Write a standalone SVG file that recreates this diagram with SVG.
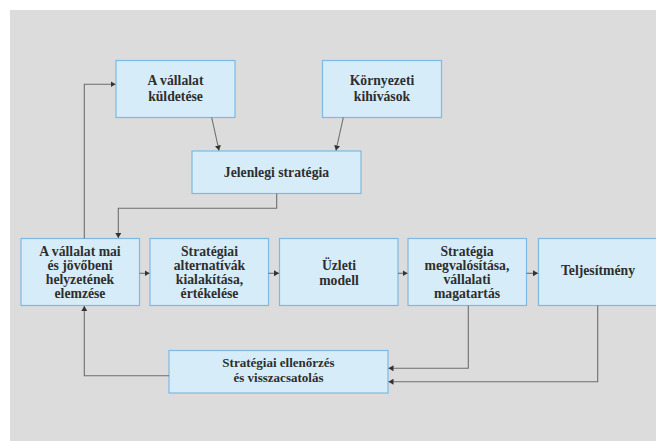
<svg xmlns="http://www.w3.org/2000/svg" width="656" height="441" viewBox="0 0 656 441">
<defs>
<marker id="ah" markerWidth="6" markerHeight="6" refX="5" refY="3" orient="auto" markerUnits="userSpaceOnUse">
<path d="M0,0 L5,3 L0,6 Z" fill="#333"/>
</marker>
<style>
.box{fill:#d6edf9;stroke:#7db9e3;stroke-width:1.2}
.t{font-family:"Liberation Serif","DejaVu Serif",serif;font-weight:bold;font-size:13.7px;fill:#2e2e2e;text-anchor:middle}
.s{font-size:13px}
.c{fill:none;stroke:#6e6e6e;stroke-width:1.1;marker-end:url(#ah)}
</style>
</defs>
<rect x="10" y="10" width="646" height="431" fill="#dcdcdd"/>
<g id="kuldetese"><rect class="box" x="116" y="60.5" width="119" height="57"/>
<text class="t" x="175.5" y="85">A vállalat</text><text class="t" x="175.5" y="100.5">küldetése</text></g>
<g id="kornyezeti"><rect class="box" x="322.5" y="60.5" width="119" height="57"/>
<text class="t" x="382" y="85">Környezeti</text><text class="t" x="382" y="100.5">kihívások</text></g>
<g id="jelenlegi"><rect class="box" x="192" y="151" width="169" height="42.5"/>
<text class="t" x="276.5" y="176.5">Jelenlegi stratégia</text></g>
<g id="elemzes"><rect class="box" x="21" y="238.5" width="118.5" height="67"/>
<text class="t" x="80" y="256">A vállalat mai</text><text class="t" x="80" y="270">és jövőbeni</text><text class="t" x="80" y="284">helyzetének</text><text class="t" x="80" y="298">elemzése</text></g>
<g id="alternativak"><rect class="box" x="150" y="238.5" width="118.5" height="67"/>
<text class="t" x="209.5" y="256">Stratégiai</text><text class="t" x="209.5" y="270">alternatívák</text><text class="t" x="209.5" y="284">kialakítása,</text><text class="t" x="209.5" y="298">értékelése</text></g>
<g id="uzleti"><rect class="box" x="279.5" y="238.5" width="118.5" height="67"/>
<text class="t" x="339" y="270">Üzleti</text><text class="t" x="339" y="285">modell</text></g>
<g id="megvalositas"><rect class="box" x="408" y="238.5" width="118.5" height="67"/>
<text class="t" x="467" y="256">Stratégia</text><text class="t" x="467" y="270">megvalósítása,</text><text class="t" x="467" y="284">vállalati</text><text class="t" x="467" y="298">magatartás</text></g>
<g id="teljesitmeny"><rect class="box" x="538.5" y="238.5" width="120" height="67"/>
<text class="t" x="598" y="275">Teljesítmény</text></g>
<g id="ellenorzes"><rect class="box" x="169" y="350.5" width="219" height="42.5"/>
<text class="t s" x="278.5" y="367">Stratégiai ellenőrzés</text><text class="t s" x="278.5" y="381.5">és visszacsatolás</text></g>
<g id="connectors">
<path class="c" d="M211.7,117.5 L219,150.5"/>
<path class="c" d="M343.3,117.5 L336,150.5"/>
<path class="c" d="M276.7,193.5 V208.3 H118.3 V238"/>
<path class="c" d="M84.3,238.5 V84.3 H115.5"/>
<path class="c" d="M139.5,273.3 H149.5"/>
<path class="c" d="M268.5,273.3 H279"/>
<path class="c" d="M398,273.3 H407.5"/>
<path class="c" d="M526.5,273.3 H538"/>
<path class="c" d="M468.3,305.5 V368.3 H388.5"/>
<path class="c" d="M597.7,305.5 V381.7 H388.5"/>
<path class="c" d="M169,375.7 H84.3 V306"/>
</g>
</svg>
